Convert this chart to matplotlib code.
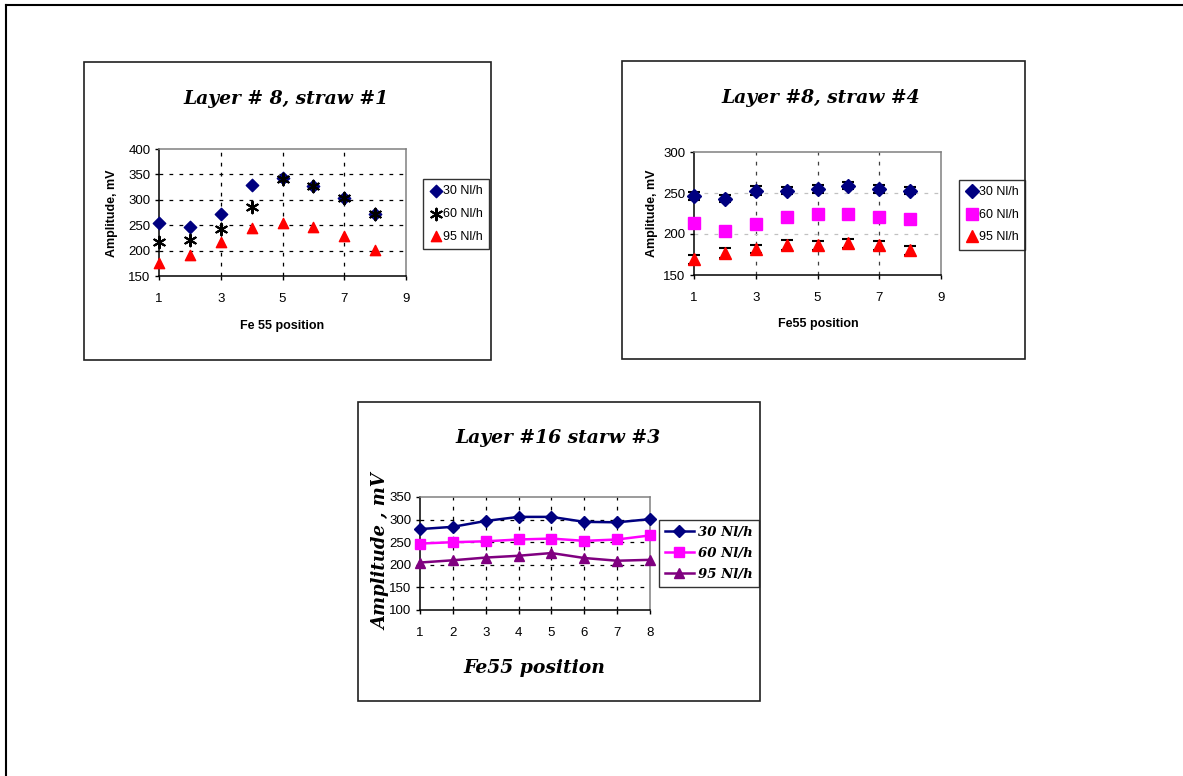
import matplotlib.pyplot as plt
from matplotlib.patches import Rectangle
from matplotlib.lines import Line2D

plt.rcParams['font.family'] = ['Liberation Sans', 'DejaVu Sans']

positions = [1, 2, 3, 4, 5, 6, 7, 8]
flow_labels = ['30 Nl/h', '60 Nl/h', '95 Nl/h']

# Layer 8, straw 1
l8s1_30 = [254, 247, 273, 329, 342, 328, 303, 273]
l8s1_60 = [216, 220, 242, 285, 341, 328, 303, 273]
l8s1_95 = [176, 192, 217, 245, 255, 247, 228, 202]

# Layer 8, straw 4 (with errors)
l8s4_30 = [246.5, 243, 253, 253, 255, 259, 255, 253]
l8s4_30_err = [5, 4, 6, 4, 5, 4, 5, 4]
l8s4_60 = [213, 204, 212, 221, 225, 224, 221, 218]
l8s4_95 = [169, 177, 182, 187, 186, 188.5, 186, 180]
l8s4_95_err = [5, 6, 5, 6, 5, 5.5, 5, 5.5]

# Layer 16, straw 3
l16s3_30 = [279, 284, 297, 306, 306, 295, 294, 301]
l16s3_60 = [247, 250, 252, 256, 258, 253, 256, 265]
l16s3_95 = [205, 210, 216, 220, 226, 215, 209, 211]

W, H = 1183, 776
fig = plt.figure(figsize=(W / 100, H / 100), dpi=100)

NAVY = '#000080'
MAGENTA = '#FF00FF'
RED = '#FF0000'
PURPLE = '#800080'
DASH = (0, (3, 5))
SERIF_BI = dict(family='DejaVu Serif', style='italic', weight='bold')


def rect(x0, y0, x1, y1):
    return [x0 / W, 1 - y1 / H, (x1 - x0) / W, (y1 - y0) / H]


def fx(x):
    return x / W


def fy(y):
    return 1 - y / H


def frame(x0, y0, x1, y1):
    fig.patches.append(Rectangle((x0 / W, 1 - y1 / H), (x1 - x0) / W, (y1 - y0) / H,
                                 transform=fig.transFigure, fill=False,
                                 ec='#202020', lw=1.2))


def style(ax):
    ax.spines['top'].set_color('#808080')
    ax.spines['right'].set_color('#808080')
    ax.spines['left'].set_color('black')
    ax.spines['bottom'].set_color('black')
    for s in ax.spines.values():
        s.set_linewidth(1.1)
    ax.tick_params(direction='out', length=3, width=1, labelsize=9.5, pad=3)
    ax.tick_params(axis='x', pad=9)
    ax.set_axisbelow(True)


def trim_grid(ax):
    # no dashed line on top of the frame edges
    for axis in (ax.xaxis, ax.yaxis):
        lines = axis.get_gridlines()
        if len(lines):
            lines[0].set_visible(False)
            lines[-1].set_visible(False)


# page edges
fig.add_artist(Line2D([fx(6), 1], [fy(5), fy(5)], transform=fig.transFigure, color='black', lw=1.5))
fig.add_artist(Line2D([fx(6), fx(6)], [0, fy(5)], transform=fig.transFigure, color='black', lw=1.5))

# ---- Layer #8, straw #1 ----
frame(84, 62, 491, 360)
ax1 = fig.add_axes(rect(159, 149, 406, 276))
ax1.scatter(positions, l8s1_30, marker='D', s=40, color=NAVY, zorder=3, clip_on=False, label=flow_labels[0])
ax1.scatter(positions, l8s1_60, marker=(6, 2, 0), s=70, color='black', lw=1.5, zorder=4, clip_on=False,
            label=flow_labels[1])
ax1.scatter(positions, l8s1_95, marker='^', s=55, color=RED, zorder=3, clip_on=False, label=flow_labels[2])
ax1.set_xlim(1, 9)
ax1.set_ylim(150, 400)
ax1.set_xticks([1, 3, 5, 7, 9])
ax1.set_yticks(range(150, 401, 50))
ax1.grid(True, linestyle=DASH, color='black', lw=0.9)
style(ax1)
trim_grid(ax1)
fig.text(fx(286), fy(99), 'Layer # 8, straw #1', ha='center', va='center', fontsize=13.5, **SERIF_BI)
fig.text(fx(112), fy(213), 'Amplitude, mV', rotation=90, ha='center', va='center', fontsize=9, weight='bold')
fig.text(fx(282), fy(326), 'Fe 55 position', ha='center', va='center', fontsize=9, weight='bold')
leg1 = ax1.legend(loc='upper left', bbox_to_anchor=(fx(423), fy(179)), bbox_transform=fig.transFigure,
                  borderaxespad=0, fontsize=9, frameon=True, fancybox=False, edgecolor='black',
                  handletextpad=0.1, handlelength=1.0, labelspacing=0.85, borderpad=0.5)
leg1.get_frame().set_linewidth(1)

# ---- Layer #8, straw #4 ----
frame(622, 61, 1025, 359)
ax2 = fig.add_axes(rect(694, 152, 941, 275))
h30 = ax2.errorbar(positions, l8s4_30, yerr=l8s4_30_err, fmt='D', ms=7.5, color=NAVY, ecolor='black',
                   elinewidth=1.2, capsize=4, capthick=1.5, zorder=3, clip_on=False)
h60, = ax2.plot(positions, l8s4_60, 's', ms=9, color=MAGENTA, zorder=3, clip_on=False)
h95 = ax2.errorbar(positions, l8s4_95, yerr=l8s4_95_err, fmt='^', ms=8.5, color=RED, ecolor='black',
                   elinewidth=1.2, capsize=4, capthick=1.5, zorder=3, clip_on=False)
for c in (h30, h95):
    for part in c.lines[1] + c.lines[2]:
        part.set_clip_on(False)
ax2.set_xlim(1, 9)
ax2.set_ylim(150, 300)
ax2.set_xticks([1, 3, 5, 7, 9])
ax2.set_yticks([150, 200, 250, 300])
ax2.yaxis.grid(True, linestyle=DASH, color='#c0c0c0', lw=0.9)
ax2.xaxis.grid(True, linestyle=DASH, color='#404040', lw=0.9)
style(ax2)
trim_grid(ax2)
fig.text(fx(821), fy(98), 'Layer #8, straw #4', ha='center', va='center', fontsize=13.5, **SERIF_BI)
fig.text(fx(652), fy(213), 'Amplitude, mV', rotation=90, ha='center', va='center', fontsize=9, weight='bold')
fig.text(fx(818), fy(324), 'Fe55 position', ha='center', va='center', fontsize=9, weight='bold')
leg_handles = [Line2D([], [], ls='none', marker='D', ms=7, color=NAVY),
               Line2D([], [], ls='none', marker='s', ms=8.5, color=MAGENTA),
               Line2D([], [], ls='none', marker='^', ms=8.5, color=RED)]
leg2 = ax2.legend(leg_handles, flow_labels, loc='upper left', bbox_to_anchor=(fx(959), fy(180)),
                  bbox_transform=fig.transFigure, borderaxespad=0, fontsize=9, frameon=True,
                  fancybox=False, edgecolor='black', handletextpad=0.1, handlelength=1.0,
                  labelspacing=0.85, borderpad=0.5)
leg2.get_frame().set_linewidth(1)

# ---- Layer #16 starw #3 ----
frame(358, 402, 760, 701)
ax3 = fig.add_axes(rect(420, 497, 650, 610))
ax3.plot(positions, l16s3_30, '-D', color=NAVY, lw=1.8, ms=6.5, label=flow_labels[0], zorder=3, clip_on=False)
ax3.plot(positions, l16s3_60, '-s', color=MAGENTA, lw=1.8, ms=7.5, label=flow_labels[1], zorder=3, clip_on=False)
ax3.plot(positions, l16s3_95, '-^', color=PURPLE, lw=1.8, ms=7.5, label=flow_labels[2], zorder=3, clip_on=False)
ax3.set_xlim(1, 8)
ax3.set_ylim(100, 350)
ax3.set_xticks(positions)
ax3.set_yticks(range(100, 351, 50))
ax3.grid(True, linestyle=DASH, color='black', lw=0.9)
style(ax3)
trim_grid(ax3)
fig.text(fx(558), fy(438), 'Layer #16 starw #3', ha='center', va='center', fontsize=13.5, **SERIF_BI)
fig.text(fx(381), fy(552), 'Amplitude , mV', rotation=90, ha='center', va='center', fontsize=13, **SERIF_BI)
fig.text(fx(534), fy(668), 'Fe55 position', ha='center', va='center', fontsize=13.5, **SERIF_BI)
leg3 = ax3.legend(loc='upper left', bbox_to_anchor=(fx(659), fy(520)), bbox_transform=fig.transFigure,
                  borderaxespad=0, prop=dict(size=9.5, **SERIF_BI), frameon=True, fancybox=False,
                  edgecolor='black', handletextpad=0.3, handlelength=2.2, labelspacing=0.6, borderpad=0.45)
leg3.get_frame().set_linewidth(1)

fig.savefig('out.png', dpi=100, facecolor='white')
